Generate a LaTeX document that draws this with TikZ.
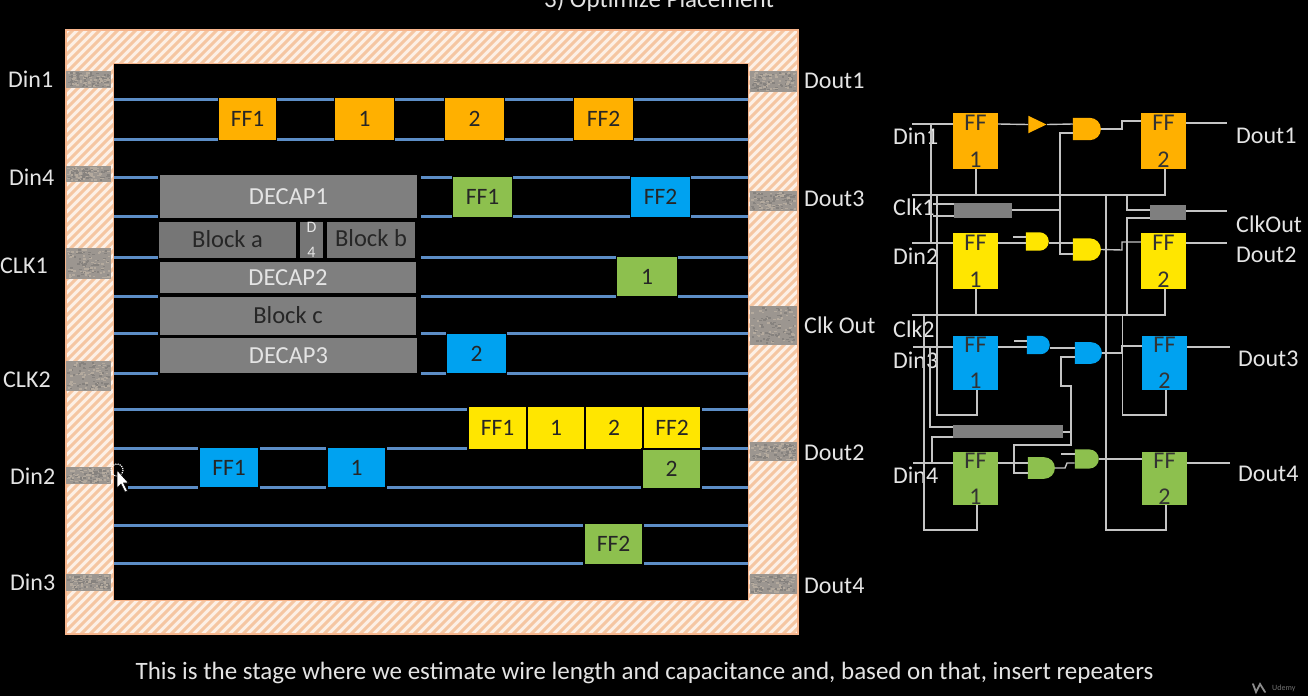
\documentclass[tikz,border=0pt]{standalone}
\usepackage{fontspec}
\setmainfont{Carlito}
\usetikzlibrary{shapes.gates.logic.US,calc}
\definecolor{orangeff}{HTML}{FFB000}
\definecolor{yellowff}{HTML}{FFE600}
\definecolor{blueff}{HTML}{00A2F0}
\definecolor{greenff}{HTML}{8DC04E}
\definecolor{metal}{HTML}{5C8DC6}
\definecolor{peach}{HTML}{F7B58C}
\definecolor{hatchlight}{HTML}{FDF0E6}
\definecolor{hatchdark}{HTML}{F5C6A2}
\definecolor{blockgrey}{HTML}{7F7F7F}
\definecolor{blockdark}{HTML}{767676}
\definecolor{wirecol}{HTML}{C4C4C4}
\definecolor{textcol}{HTML}{E4E4E4}
\definecolor{padgrey}{HTML}{9C9690}
\definecolor{padlight}{HTML}{B4AA9E}
\definecolor{paddark}{HTML}{86827E}
\tikzset{
  lbl/.style={anchor=west,inner sep=0pt,text=textcol,font=\fontsize{24}{26}\selectfont},
  cell/.style={draw=black,line width=1.5pt,inner sep=0pt,text=black!85,font=\fontsize{23.5}{25}\selectfont},
  block/.style={inner sep=0pt,fill=blockgrey,font=\fontsize{24.5}{26}\selectfont},
  ffbox/.style={inner sep=0pt,align=center,text=black!80,font=\fontsize{24}{24}\selectfont},
  greybox/.style={inner sep=0pt,fill=blockgrey},
  padbox/.style={inner sep=0pt,fill=padgrey},
  wire/.style={draw=wirecol,line width=1.4pt},
  metalline/.style={draw=metal,line width=3pt},
  andg/.style={and gate US,logic gate inputs=nn,draw=none,inner sep=0pt,fill=#1},
  bufg/.style={buffer gate US,draw=none,inner sep=0pt,fill=#1}
}
% \bx{name}{x1}{y1}{x2}{y2}{style}{text}
\newcommand{\bx}[7]{%
  \pgfmathsetmacro{\bxw}{#4-#2}\pgfmathsetmacro{\bxh}{#5-#3}%
  \node[#6,minimum width=\bxw pt,minimum height=\bxh pt] (#1) at ({(#2+#4)/2},{(#3+#5)/2}) {#7};}
% textured pad
\newcommand{\pad}[5]{%
  \bx{#1}{#2}{#3}{#4}{#5}{padbox}{}%
  \foreach \k in {1,...,110}{%
    \pgfmathsetmacro{\px}{#2+1+rnd*(#4-#2-4)}%
    \pgfmathsetmacro{\py}{#3+1+rnd*(#5-#3-3)}%
    \pgfmathparse{rnd<0.5?"paddark":"padlight"}\edef\pc{\pgfmathresult}%
    \fill[\pc] (\px,\py) rectangle ++(2.5,1.5);
  }}
\begin{document}
\begin{tikzpicture}[x=1pt,y=-1pt]
\useasboundingbox (0,0) rectangle (1308,696);
\fill[black] (0,0) rectangle (1308,696);
\begin{scope}
\clip (0,0) rectangle (1308,696);
\node[anchor=base,inner sep=0pt,text=textcol,font=\fontsize{25}{27}\selectfont] (title) at (659,8) {3) Optimize Placement};
\end{scope}
% ---- frame
\fill[hatchlight] (66,30) rectangle (798,634);
\begin{scope}
\clip (66,30) rectangle (798,634);
\foreach \i in {0,...,150}{
  \draw[hatchdark,line width=3pt] ({-540+9*\i},634) -- ({64+9*\i},30);
}
\end{scope}
\draw[peach,line width=2.5pt] (66,30) rectangle (798,634);
\fill[peach] (113,63) rectangle (749,601);
\fill[black] (114,64) rectangle (748,600);
% ---- pads
\pgfmathsetseed{42}
\pad{pDinA}{66}{71}{111}{88}
\pad{pDinD}{66}{166}{111}{182}
\pad{pClkA}{66}{248}{111}{279}
\pad{pClkB}{66}{361}{111}{391}
\pad{pDinB}{66}{467}{111}{484}
\pad{pDinC}{66}{574}{111}{591}
\pad{pDoutA}{750}{71}{797}{92}
\pad{pDoutC}{750}{191}{797}{211}
\pad{pClkO}{750}{306}{797}{345}
\pad{pDoutB}{750}{442}{797}{461}
\pad{pDoutD}{750}{574}{797}{594}
% ---- metal rows
\foreach \y in {99,139,409,448,525,563}{\draw[metalline] (114,\y) -- (748,\y);}
\draw[metalline] (128,487) -- (748,487);
\foreach \y in {177,216,257,296,333,373}{
  \draw[metalline] (114,\y) -- (158,\y);
  \draw[metalline] (421,\y) -- (748,\y);
}
% ---- placed cells
\bx{oA}{218.5}{97}{276.5}{141}{cell,fill=orangeff}{FF1}
\bx{oB}{334.5}{97}{394.5}{141}{cell,fill=orangeff}{1}
\bx{oC}{444.5}{97}{504.5}{141}{cell,fill=orangeff}{2}
\bx{oD}{573.5}{97}{633.5}{141}{cell,fill=orangeff}{FF2}
\bx{gA}{452.5}{176}{512.5}{218}{cell,fill=greenff}{FF1}
\bx{bD}{630.5}{176}{690.5}{218}{cell,fill=blueff}{FF2}
\bx{gB}{616.5}{256}{677.5}{297}{cell,fill=greenff}{1}
\bx{bC}{446.5}{333}{506.5}{374}{cell,fill=blueff}{2}
\bx{yA}{468}{406}{527}{450}{cell,fill=yellowff}{FF1}
\bx{yB}{527}{406}{585}{450}{cell,fill=yellowff}{1}
\bx{yC}{585}{406}{643}{450}{cell,fill=yellowff}{2}
\bx{yD}{643}{406}{701}{450}{cell,fill=yellowff}{FF2}
\bx{gC}{642}{449}{701}{489}{cell,fill=greenff}{2}
\bx{bA}{199}{447}{259}{488}{cell,fill=blueff}{FF1}
\bx{bB}{327}{447}{386}{488}{cell,fill=blueff}{1}
\bx{gD}{584}{523}{643}{565}{cell,fill=greenff}{FF2}
% ---- macro blocks
\bx{decA}{160}{175}{417}{218}{block,text=textcol}{DECAP1}
\bx{blkA}{159}{222}{296}{258}{block,fill=blockdark,text=black!85}{\raisebox{3pt}{Block a}}
\bx{blkD}{300}{222}{323}{258}{block,fill=blockdark,text=textcol,font=\fontsize{16}{25}\selectfont,align=center}{D\\4}
\bx{blkB}{327}{222}{415}{258}{block,fill=blockdark,text=black!85}{\raisebox{4pt}{Block b}}
\bx{decB}{160}{262}{416}{293}{block,text=textcol}{DECAP2}
\bx{blkC}{160}{297}{416}{335}{block,text=black!85}{\raisebox{1.5pt}{Block c}}
\bx{decC}{160}{338}{417}{373}{block,text=textcol}{DECAP3}
% ---- chip labels
\node[lbl] (lDinA) at (8,79) {Din1};
\node[lbl] (lDinD) at (9,177) {Din4};
\node[lbl] (lClkA) at (0,266) {CLK1};
\node[lbl] (lClkB) at (3,380) {CLK2};
\node[lbl] (lDinB) at (10,476) {Din2};
\node[lbl] (lDinC) at (10,582) {Din3};
\node[lbl] (lDoutA) at (804,81) {Dout1};
\node[lbl] (lDoutC) at (804,199) {Dout3};
\node[lbl] (lClkO) at (804,325) {Clk Out};
\node[lbl] (lDoutB) at (804,453) {Dout2};
\node[lbl] (lDoutD) at (804,586) {Dout4};
% ---- cursor
\coordinate (cur) at (117,470);
\draw[white,densely dotted,line width=1.2pt] (cur) circle (6);
\fill[white,draw=black,line width=.6pt] (cur) -- ++(0,18) -- ++(4,-4) -- ++(4,8) -- ++(2.5,-1) -- ++(-4,-8) -- ++(5,0) -- cycle;
% ---- schematic labels
\node[lbl] (sDinA) at (893,136) {Din1};
\node[lbl] (sClkA) at (893,207) {Clk1};
\node[lbl] (sDinB) at (893,256) {Din2};
\node[lbl] (sClkB) at (893,329) {Clk2};
\node[lbl] (sDinC) at (893,360) {Din3};
\node[lbl] (sDinD) at (893,475) {Din4};
\node[lbl] (sDoutA) at (1236,136) {Dout1};
\node[lbl] (sClkO) at (1236,224) {ClkOut};
\node[lbl] (sDoutB) at (1236,255) {Dout2};
\node[lbl] (sDoutC) at (1238,359) {Dout3};
\node[lbl] (sDoutD) at (1238,474) {Dout4};
% ---- free ends
\coordinate (eDinA) at (912,124);
\coordinate (eDinB) at (912,243);
\coordinate (eDinC) at (913,347);
\coordinate (eDinD) at (913,463);
\coordinate (eClkA) at (912,195);
\coordinate (eClkB) at (912,315);
\coordinate (eOutA) at (1227,123);
\coordinate (eOutB) at (1227,243);
\coordinate (eOutC) at (1230,347);
\coordinate (eOutD) at (1230,463);
\coordinate (eClkO) at (1227,211);
\coordinate (eStubY) at (1013,237);
\coordinate (eStubB) at (1014,341);
\coordinate (eStubG) at (1061,454);
% ---- wires (under the cells)
\draw[wire] (eDinA) -- (953,124);
\draw[wire] (eDinB) -- (953,243);
\draw[wire] (eDinC) -- (953,347);
\draw[wire] (eDinD) -- (953,463);
\draw[wire] (eClkA) -- (1165,195) -- (1165,169);
\draw[wire] (976,195) -- (976,169);
\draw[wire] (eClkB) -- (1165,315) -- (1165,289);
\draw[wire] (976,315) -- (976,289);
\draw[wire] (931,124) -- (931,243);
\draw[wire] (930,347) -- (930,427) -- (953,427);
\draw[wire] (932,463) -- (932,437) -- (953,437);
\draw[wire] (937,195) -- (937,415) -- (977,415) -- (977,390);
\draw[wire] (924,315) -- (924,530) -- (977,530) -- (977,505);
\draw[wire] (1106,195) -- (1106,530) -- (1166,530) -- (1166,505);
\draw[wire] (1122.5,315) -- (1122.5,415) -- (1166,415) -- (1166,390);
\draw[wire] (1127,195) -- (1127,210) -- (1150,210);
\draw[wire] (1127,315) -- (1127,218) -- (1150,218);
\draw[wire] (933,204) -- (954,204);
\draw[wire] (933,216) -- (954,216);
% ---- flip-flops
\bx{f1a}{953}{113}{998}{169}{ffbox,fill=orangeff}{FF\\[13pt]1}
\bx{f1b}{1141}{113}{1186}{169}{ffbox,fill=orangeff}{FF\\[13pt]2}
\bx{f2a}{953}{233}{998}{289}{ffbox,fill=yellowff}{FF\\[13pt]1}
\bx{f2b}{1141}{233}{1186}{289}{ffbox,fill=yellowff}{FF\\[13pt]2}
\bx{f3a}{953}{336}{998}{390}{ffbox,fill=blueff}{FF\\[12pt]1}
\bx{f3b}{1142}{336}{1187}{390}{ffbox,fill=blueff}{FF\\[12pt]2}
\bx{f4a}{953}{452}{998}{505}{ffbox,fill=greenff}{FF\\[12pt]1}
\bx{f4b}{1142}{452}{1187}{505}{ffbox,fill=greenff}{FF\\[12pt]2}
% ---- grey repeaters / buffers
\bx{r1}{954}{203}{1012}{218}{greybox}{}
\bx{r2}{1150}{205}{1186}{220}{greybox}{}
\bx{r3}{953}{425}{1063}{438}{greybox}{}
% ---- gates
\node[bufg=orangeff,minimum width=15pt,minimum height=15pt] (b1) at (1034.5,124.5) {};
\node[andg=orangeff,minimum width=28pt,minimum height=18pt] (a1) at (1086,129) {};
\node[andg=yellowff,minimum width=23pt,minimum height=17pt] (h2) at (1036.5,241.5) {};
\node[andg=yellowff,minimum width=28pt,minimum height=17pt] (a2) at (1086,249.5) {};
\node[andg=blueff,minimum width=23pt,minimum height=16pt] (h3) at (1037.5,345) {};
\node[andg=blueff,minimum width=27pt,minimum height=18pt] (a3) at (1087.5,353) {};
\node[andg=greenff,minimum width=27pt,minimum height=18pt] (h4) at (1040.5,468) {};
\node[andg=greenff,minimum width=24pt,minimum height=16pt] (a4) at (1086,459) {};
% ---- signal wires by name
\draw[wire] (f1a.east |- 0,124) -- (b1.west);
\draw[wire] (b1.east) -- (a1.west |- 0,124);
\draw[wire] (a1.east) -- (1122,129) -- (1122,121) -- (f1b.west |- 0,121);
\draw[wire] (f1b.east |- 0,123) -- (eOutA);
\draw[wire] (f2a.east |- 0,243) -- (h2.west |- 0,243);
\draw[wire] (eStubY) -- (h2.west |- 0,237);
\draw[wire] (h2.east |- 0,243) -- (a2.west |- 0,243);
\draw[wire] (a2.east) -- (1122,250) -- (1122,242) -- (f2b.west |- 0,242);
\draw[wire] (f2b.east |- 0,243) -- (eOutB);
\draw[wire] (r1.east |- 0,210) -- (1060,210);
\draw[wire] (a1.west |- 0,133) -- (1060,133) -- (1060,254) -- (a2.west |- 0,254);
\draw[wire] (r2.east |- 0,211) -- (eClkO);
\draw[wire] (f3a.east |- 0,347) -- (h3.west |- 0,347);
\draw[wire] (eStubB) -- (h3.west |- 0,341);
\draw[wire] (h3.east |- 0,348) -- (a3.west |- 0,348);
\draw[wire] (a3.east) -- (1122,353) -- (1122,346) -- (f3b.west |- 0,346);
\draw[wire] (f3b.east |- 0,347) -- (eOutC);
\draw[wire] (a3.west |- 0,357) -- (1061,357) -- (1061,386) -- (1071,386) -- (1071,445) -- (1014,445) -- (1014,473) -- (h4.west |- 0,473);
\draw[wire] (r3.east |- 0,432) -- (1071,432);
\draw[wire] (f4a.east |- 0,463) -- (h4.west |- 0,463);
\draw[wire] (h4.east) -- (1065,468) -- (1067,463) -- (a4.west |- 0,463);
\draw[wire] (eStubG) -- (a4.west |- 0,454);
\draw[wire] (a4.east) -- (f4b.west |- 0,459);
\draw[wire] (f4b.east |- 0,463) -- (eOutD);
% ---- caption and watermark
\node[anchor=center,inner sep=0pt,text=textcol,font=\fontsize{25}{27}\selectfont] (cap) at (644.5,673) {This is the stage where we estimate wire length and capacitance and, based on that, insert repeaters};
\node[anchor=west,inner sep=0pt,text=black!55!white,font=\fontsize{8}{9}\selectfont] (wm) at (1272,688) {Udemy};
\draw[black!45!white,line width=1.8pt,line cap=round] (1253,684) -- (1256,692) -- (1260,684) -- (1265,692);
\end{tikzpicture}
\end{document}
